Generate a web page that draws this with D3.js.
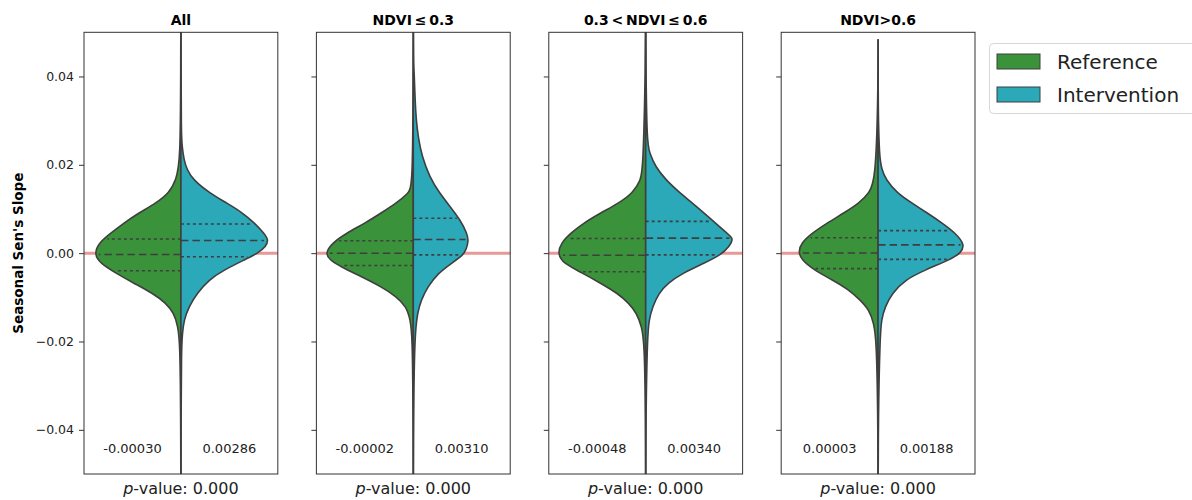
<!DOCTYPE html>
<html>
<head>
<meta charset="utf-8">
<title>Seasonal Sen's Slope</title>
<style>
  body { margin: 0; background: #fff; }
  svg { font-family: "DejaVu Sans", sans-serif; }
</style>
</head>
<body>
<div id="chart"></div>
<script src="https://d3js.org/d3.v7.min.js"></script>
<script>
// panel titles
const panels = ["All", "NDVI\u2009\u2264\u20090.3", "0.3\u2009<\u2009NDVI\u2009\u2264\u20090.6", "NDVI>0.6"]
const groups = ["Reference", "Intervention"]
const yTicks = [0.04, 0.02, 0.0, -0.02, -0.04]

// medians printed at the bottom of each panel (reference, intervention)
const medians = [[-0.00030, 0.00286], [-0.00002, 0.00310], [-0.00048, 0.00340], [0.00003, 0.00188]]
const q1 = [[-0.0040, -0.0008], [-0.0028, -0.0004], [-0.0042, -0.0004], [-0.0035, -0.0014]]
const q3 = [[0.0032, 0.0066], [0.0028, 0.0079], [0.0033, 0.0072], [0.0035, 0.0051]]
const pValues = [0.000, 0.000, 0.000, 0.000]
// where the thin tails end (top, bottom)
const tails = [[0.06, -0.06], [0.06, -0.06], [0.06, -0.06], [0.0483, -0.06]]

// kernel density (relative, peak ~1): [value, density]
const refDensity = [
  [[0.0205, 0.006], [0.0166, 0.057], [0.0136, 0.134], [0.0113, 0.287], [0.0091, 0.483], [0.0068, 0.655], [0.0045, 0.805], [0.0023, 0.943], [-0.0002, 0.995], [-0.0023, 0.925], [-0.0045, 0.747], [-0.0068, 0.54], [-0.0091, 0.322], [-0.0113, 0.172], [-0.0136, 0.08], [-0.0166, 0.034], [-0.0203, 0.011]],
  [[0.0150, 0.006], [0.0136, 0.057], [0.0113, 0.195], [0.0091, 0.368], [0.0068, 0.552], [0.0045, 0.77], [0.0023, 0.93], [0.0, 1.01], [-0.0015, 0.96], [-0.0030, 0.839], [-0.0053, 0.598], [-0.0076, 0.368], [-0.0098, 0.195], [-0.0121, 0.08], [-0.0151, 0.034], [-0.0189, 0.011]],
  [[0.0189, 0.031], [0.0166, 0.057], [0.0136, 0.146], [0.0113, 0.31], [0.0091, 0.517], [0.0068, 0.713], [0.0045, 0.862], [0.0023, 0.97], [0.0, 1.01], [-0.0023, 0.95], [-0.0045, 0.724], [-0.0068, 0.517], [-0.0091, 0.322], [-0.0113, 0.195], [-0.0136, 0.103], [-0.0166, 0.046], [-0.0204, 0.015]],
  [[0.0166, 0.031], [0.0136, 0.1], [0.0113, 0.218], [0.0091, 0.391], [0.0068, 0.586], [0.0045, 0.759], [0.0023, 0.88], [0.0004, 0.915], [-0.0015, 0.88], [-0.0038, 0.736], [-0.0060, 0.529], [-0.0083, 0.333], [-0.0106, 0.207], [-0.0128, 0.103], [-0.0159, 0.049], [-0.0196, 0.02]]
]
const intDensity = [
  [[0.0272, 0.004], [0.0241, 0.014], [0.0211, 0.035], [0.0189, 0.07], [0.0166, 0.14], [0.0136, 0.33], [0.0113, 0.53], [0.0091, 0.71], [0.0068, 0.845], [0.0045, 0.955], [0.0030, 1.005], [0.0015, 0.975], [0.0, 0.885], [-0.0015, 0.73], [-0.0038, 0.494], [-0.0060, 0.322], [-0.0091, 0.185], [-0.0121, 0.092], [-0.0151, 0.036], [-0.0181, 0.017], [-0.0219, 0.006]],
  [[0.0415, 0.01], [0.0347, 0.02], [0.0300, 0.034], [0.0260, 0.058], [0.0219, 0.1], [0.0173, 0.185], [0.0136, 0.3], [0.0106, 0.42], [0.0075, 0.54], [0.0045, 0.615], [0.0028, 0.635], [0.0008, 0.605], [-0.0004, 0.575], [-0.0023, 0.437], [-0.0045, 0.287], [-0.0076, 0.165], [-0.0106, 0.09], [-0.0136, 0.048], [-0.0166, 0.03], [-0.0212, 0.015]],
  [[0.0249, 0.015], [0.0227, 0.045], [0.0196, 0.11], [0.0166, 0.23], [0.0136, 0.395], [0.0106, 0.58], [0.0075, 0.76], [0.0045, 0.93], [0.0034, 1.01], [0.0015, 0.96], [-0.0004, 0.862], [-0.0023, 0.667], [-0.0045, 0.425], [-0.0068, 0.253], [-0.0091, 0.149], [-0.0121, 0.08], [-0.0151, 0.038], [-0.0189, 0.02]],
  [[0.0302, 0.004], [0.0220, 0.015], [0.0190, 0.04], [0.0166, 0.09], [0.0136, 0.218], [0.0113, 0.391], [0.0091, 0.563], [0.0068, 0.736], [0.0045, 0.89], [0.0019, 0.995], [0.0, 0.95], [-0.0015, 0.82], [-0.0038, 0.54], [-0.0060, 0.31], [-0.0091, 0.161], [-0.0121, 0.08], [-0.0151, 0.038], [-0.0189, 0.023]]
]

const colors = ["#3a923a", "#2ba9b8"]
const edge = "#3f3f3f"

const width = 1192, height = 500
const svg = d3.select("#chart").append("svg")
  .attr("width", width)
  .attr("height", height)

const y = d3.scaleLinear().domain([-0.05, 0.05]).range([474, 32.3])
const panelX = d3.scaleBand().domain(d3.range(panels.length)).range([84, 975]).paddingInner(0.166)
const dens = d3.scaleLinear().domain([0, 1]).range([0, 0.45])

panels.forEach((title, i) => {
  const left = panelX(i), bw = panelX.bandwidth()
  const x = d3.scaleLinear().domain([-0.5, 0.5]).range([left, left + bw])
  const g = svg.append("g")

  g.append("clipPath").attr("id", "clip" + i)
    .append("rect").attr("x", left).attr("y", y(0.05)).attr("width", bw).attr("height", y(-0.05) - y(0.05))

  // zero reference line
  g.append("line")
    .attr("x1", left).attr("x2", left + bw)
    .attr("y1", y(0)).attr("y2", y(0))
    .attr("stroke", "#e99797").attr("stroke-width", 3)

  const plot = g.append("g").attr("clip-path", `url(#clip${i})`)
  const series = [refDensity[i], intDensity[i]]
  series.forEach((pts, s) => {
    const sign = s === 0 ? -1 : 1
    const full = [[tails[i][0], 0.0], [tails[i][0] * 0.7, 0.002], ...pts, [tails[i][1] * 0.6, 0.002], [tails[i][1], 0.0]]
    const area = d3.area()
      .y(d => y(d[0]))
      .x0(x(0))
      .x1(d => x(sign * dens(d[1])))
      .curve(d3.curveBasis)
    plot.append("path")
      .attr("d", area(full))
      .attr("fill", colors[s])
      .attr("stroke", edge)
      .attr("stroke-width", 1.6)
      .attr("stroke-linejoin", "round")

    // quartile lines
    const sorted = full.slice().sort((a, b) => a[0] - b[0])
    const widthAt = d3.scaleLinear().domain(sorted.map(d => d[0])).range(sorted.map(d => d[1]))
    const inner = [[q1[i][s], "3,3"], [medians[i][s], "7.5,4"], [q3[i][s], "3,3"]]
    inner.forEach(([v, dash]) => {
      plot.append("line")
        .attr("x1", x(0)).attr("x2", x(sign * dens(widthAt(v)) * 0.95))
        .attr("y1", y(v)).attr("y2", y(v))
        .attr("stroke", edge).attr("stroke-width", 1.6)
        .attr("stroke-dasharray", dash)
    })

    // median label
    g.append("text")
      .attr("x", x(sign * 0.25))
      .attr("y", 453)
      .attr("text-anchor", "middle")
      .attr("font-size", 13)
      .attr("fill", "#222")
      .text(medians[i][s].toFixed(5))
  })

  // frame
  g.append("rect")
    .attr("x", left).attr("y", y(0.05))
    .attr("width", bw).attr("height", y(-0.05) - y(0.05))
    .attr("fill", "none").attr("stroke", "#333").attr("stroke-width", 1)

  // y axis ticks
  const axis = d3.axisLeft(y).tickValues(yTicks).tickSize(5).tickPadding(5)
    .tickFormat(i === 0 ? (d => d3.format(".2f")(d)) : "")
  const ax = g.append("g").attr("transform", `translate(${left},0)`).call(axis)
  ax.select(".domain").remove()
  ax.selectAll("text").attr("font-size", 12.5).attr("fill", "#222").attr("font-family", "DejaVu Sans")
  ax.selectAll("line").attr("stroke", "#333")

  // title
  g.append("text")
    .attr("x", left + bw / 2).attr("y", 25)
    .attr("text-anchor", "middle")
    .attr("font-size", 14).attr("font-weight", "bold")
    .text(title)

  // p-value label
  const pt = g.append("text")
    .attr("x", left + bw / 2).attr("y", 494)
    .attr("text-anchor", "middle")
    .attr("font-size", 16).attr("fill", "#222")
  pt.append("tspan").attr("font-style", "italic").text("p")
  pt.append("tspan").text("-value: " + pValues[i].toFixed(3))
})

// y label
svg.append("text")
  .attr("transform", `translate(23,${y(0)}) rotate(-90)`)
  .attr("text-anchor", "middle")
  .attr("font-size", 13.5).attr("font-weight", "bold")
  .text("Seasonal Sen's Slope")

// legend
const legend = svg.append("g")
legend.append("rect")
  .attr("x", 989.5).attr("y", 43.5).attr("width", 220).attr("height", 70)
  .attr("rx", 4).attr("fill", "#fff").attr("stroke", "#d6d6d6")
groups.forEach((name, k) => {
  legend.append("rect")
    .attr("x", 997).attr("y", 54 + k * 33).attr("width", 43).attr("height", 15)
    .attr("fill", colors[k]).attr("stroke", edge).attr("stroke-width", 1)
  legend.append("text")
    .attr("x", 1057).attr("y", 68.5 + k * 33)
    .attr("font-size", 20).attr("fill", "#222")
    .text(name)
})
</script>
</body>
</html>
